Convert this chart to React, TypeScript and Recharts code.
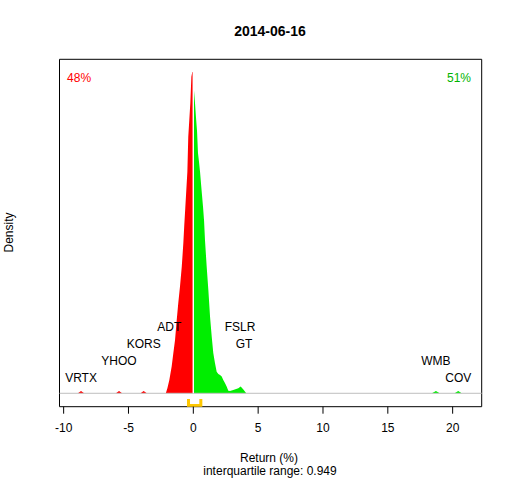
import React from 'react';
import {
  ComposedChart,
  Area,
  Line,
  Scatter,
  XAxis,
  YAxis,
  ReferenceLine,
  ReferenceArea,
} from 'recharts';

// density of returns below zero (r = return %, d = density)
const negCurve = [
  { r: -9.2, d: 0 }, { r: -8.9, d: 0 }, { r: -8.66, d: 0.007 }, { r: -8.42, d: 0 },
  { r: -5.97, d: 0 }, { r: -5.73, d: 0.007 }, { r: -5.49, d: 0 },
  { r: -4.07, d: 0 }, { r: -3.83, d: 0.007 }, { r: -3.59, d: 0 },
  { r: -2.12, d: 0 }, { r: -2.0, d: 0.016 }, { r: -1.85, d: 0.041 }, { r: -1.67, d: 0.083 },
  { r: -1.54, d: 0.125 }, { r: -1.41, d: 0.166 }, { r: -1.28, d: 0.228 }, { r: -1.16, d: 0.281 },
  { r: -1.03, d: 0.331 }, { r: -0.89, d: 0.394 }, { r: -0.77, d: 0.467 }, { r: -0.7, d: 0.521 },
  { r: -0.62, d: 0.576 }, { r: -0.54, d: 0.632 }, { r: -0.46, d: 0.688 }, { r: -0.39, d: 0.797 },
  { r: -0.31, d: 0.85 }, { r: -0.23, d: 0.903 }, { r: -0.15, d: 0.984 }, { r: -0.08, d: 0.999 },
  { r: -0.04, d: 0.999 },
];

// density of returns above zero
const posCurve = [
  { r: 0.05, d: 0.943 }, { r: 0.13, d: 0.903 }, { r: 0.21, d: 0.856 }, { r: 0.29, d: 0.813 },
  { r: 0.36, d: 0.747 }, { r: 0.44, d: 0.719 }, { r: 0.52, d: 0.688 }, { r: 0.59, d: 0.654 },
  { r: 0.67, d: 0.617 }, { r: 0.75, d: 0.579 }, { r: 0.83, d: 0.536 }, { r: 0.9, d: 0.477 },
  { r: 1.03, d: 0.394 }, { r: 1.16, d: 0.321 }, { r: 1.29, d: 0.238 }, { r: 1.42, d: 0.176 },
  { r: 1.54, d: 0.125 }, { r: 1.67, d: 0.094 }, { r: 1.8, d: 0.067 }, { r: 1.93, d: 0.06 },
  { r: 2.06, d: 0.057 }, { r: 2.19, d: 0.052 }, { r: 2.31, d: 0.041 }, { r: 2.44, d: 0.032 },
  { r: 2.57, d: 0.021 }, { r: 2.7, d: 0.008 }, { r: 2.83, d: 0.007 }, { r: 3.08, d: 0.01 },
  { r: 3.47, d: 0.016 }, { r: 3.65, d: 0.021 }, { r: 3.86, d: 0.012 }, { r: 4.08, d: 0 },
  { r: 18.4, d: 0 }, { r: 18.71, d: 0.007 }, { r: 19.0, d: 0 },
  { r: 20.15, d: 0 }, { r: 20.43, d: 0.007 }, { r: 20.7, d: 0 },
];

// extreme movers, labelled at stepped heights
const tickers = [
  { name: 'VRTX', r: -8.66, d: 0.0485 },
  { name: 'YHOO', r: -5.73, d: 0.1 },
  { name: 'KORS', r: -3.83, d: 0.153 },
  { name: 'ADT', r: -1.85, d: 0.205 },
  { name: 'FSLR', r: 3.6, d: 0.205 },
  { name: 'GT', r: 3.91, d: 0.153 },
  { name: 'WMB', r: 18.71, d: 0.1 },
  { name: 'COV', r: 20.43, d: 0.0485 },
];

const shares = [
  { name: '48%', r: -8.81, d: 0.981, color: '#ff0000' },
  { name: '51%', r: 20.49, d: 0.981, color: '#00b400' },
];

const q1 = -0.37;
const q3 = 0.58;
const iqrBracket = [
  { r: q1, d: -0.018 },
  { r: q1, d: -0.038 },
  { r: q3, d: -0.038 },
  { r: q3, d: -0.018 },
];

const xTicks = [-10, -5, 0, 5, 10, 15, 20];
const xDomain: [number, number] = [-10.32, 22.24];
const yDomain: [number, number] = [-0.0417, 1.0386];

const font = '"Liberation Sans", Arial, sans-serif';

const TextMark = (props: any) => {
  const { cx, cy, payload } = props;
  return (
    <text
      x={cx}
      y={cy}
      textAnchor="middle"
      dominantBaseline="central"
      fontSize={12}
      fontFamily={font}
      fill={payload.color || '#000'}
    >
      {payload.name}
    </text>
  );
};

export default function App() {
  return (
    <div style={{ position: 'absolute', left: 0, top: 0, width: 512, height: 480, background: '#fff' }}>
      <ComposedChart
        width={512}
        height={480}
        margin={{ top: 59.3, right: 30.3, left: 59.5, bottom: 43.3 }}
      >
        <XAxis
          dataKey="r"
          type="number"
          domain={xDomain}
          allowDataOverflow
          ticks={xTicks}
          axisLine={false}
          tickLine={{ stroke: '#000' }}
          tickSize={7}
          tickMargin={10}
          height={30}
          tick={{ fill: '#000', fontSize: 12, fontFamily: font }}
        />
        <YAxis dataKey="d" type="number" domain={yDomain} allowDataOverflow hide />
        <ReferenceLine y={0} stroke="#bebebe" strokeWidth={1} />
        <Area
          data={negCurve}
          dataKey="d"
          type="linear"
          fill="#ff0000"
          fillOpacity={1}
          stroke="none"
          baseValue={0}
          isAnimationActive={false}
        />
        <Area
          data={posCurve}
          dataKey="d"
          type="linear"
          fill="#00ee00"
          fillOpacity={1}
          stroke="none"
          baseValue={0}
          isAnimationActive={false}
        />
        <ReferenceLine
          segment={[{ x: 0, y: 0 }, { x: 0, y: 1 }]}
          stroke="#fff"
          strokeWidth={1.2}
        />
        <Line
          data={iqrBracket}
          dataKey="d"
          type="linear"
          stroke="#ffc800"
          strokeWidth={3}
          dot={false}
          isAnimationActive={false}
        />
        <Scatter data={tickers} dataKey="d" shape={TextMark} isAnimationActive={false} />
        <Scatter data={shares} dataKey="d" shape={TextMark} isAnimationActive={false} />
        <ReferenceArea
          x1={xDomain[0]}
          x2={xDomain[1]}
          y1={yDomain[0]}
          y2={yDomain[1]}
          fill="none"
          stroke="#000"
          strokeWidth={1}
          ifOverflow="visible"
        />
      </ComposedChart>
      <svg
        width={512}
        height={480}
        style={{ position: 'absolute', left: 0, top: 0, pointerEvents: 'none' }}
        fontFamily={font}
      >
        <text x={270} y={31} textAnchor="middle" dominantBaseline="central" fontSize={14} fontWeight="bold">
          2014-06-16
        </text>
        <text x={269} y={457.7} textAnchor="middle" dominantBaseline="central" fontSize={12}>
          Return (%)
        </text>
        <text x={270} y={470.7} textAnchor="middle" dominantBaseline="central" fontSize={12}>
          interquartile range: 0.949
        </text>
        <text
          x={9}
          y={232.5}
          textAnchor="middle"
          dominantBaseline="central"
          fontSize={12}
          transform="rotate(-90 9 232.5)"
        >
          Density
        </text>
      </svg>
    </div>
  );
}
